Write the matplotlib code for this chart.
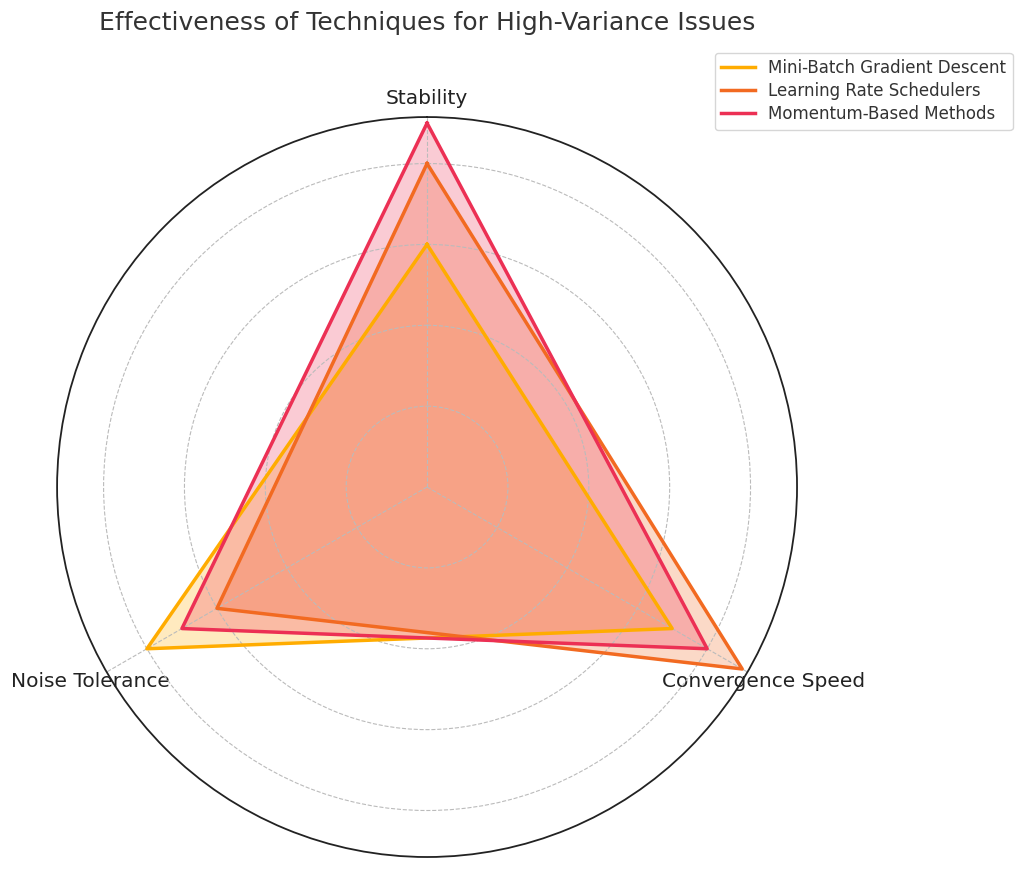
import numpy as np
import matplotlib
matplotlib.use("Agg")
import matplotlib.pyplot as plt

categories = ["Stability", "Convergence Speed", "Noise Tolerance"]
series_names = ["Mini-Batch Gradient Descent", "Learning Rate Schedulers", "Momentum-Based Methods"]
mini_batch = [6, 7, 8]
lr_schedulers = [8, 9, 6]
momentum = [9, 8, 7]
colors = ["#FFAC00", "#F26A21", "#EC3054"]
grid_ticks = [2, 4, 6, 8]

fig = plt.figure(figsize=(10.24, 8.69), dpi=100)
ax = fig.add_axes([0.0557, 0.0138, 0.7227, 0.8515], projection="polar")
ax.set_theta_offset(np.pi / 2)
ax.set_theta_direction(-1)

n = len(categories)
angles = np.linspace(0, 2 * np.pi, n, endpoint=False).tolist()
angles_closed = angles + angles[:1]

for name, vals, c in zip(series_names, [mini_batch, lr_schedulers, momentum], colors):
    v = list(vals) + vals[:1]
    ax.plot(angles_closed, v, color=c, linewidth=2.5, label=name)
    ax.fill(angles_closed, v, color=c, alpha=0.25)

ax.set_ylim(0, 9.15)
ax.set_yticks(grid_ticks)
ax.set_yticklabels([])
ax.set_xticks(angles)
ax.set_xticklabels(categories, fontsize=14.5, color="#222222")
ax.tick_params(axis="x", pad=3)
ax.grid(True, color="#bbbbbb", linestyle="--", linewidth=0.8)
ax.spines["polar"].set_color("#222222")
ax.spines["polar"].set_linewidth(1.3)

fig.text(0.417, 0.973, "Effectiveness of Techniques for High-Variance Issues",
         ha="center", va="center", fontsize=18, color="#333333")

leg = ax.legend(loc="upper right", bbox_to_anchor=(0.997, 0.949), bbox_transform=fig.transFigure,
                fontsize=12, frameon=True, labelcolor="#333333", labelspacing=0.3)
leg.get_frame().set_edgecolor("#cccccc")

fig.savefig("out.png", dpi=100)
